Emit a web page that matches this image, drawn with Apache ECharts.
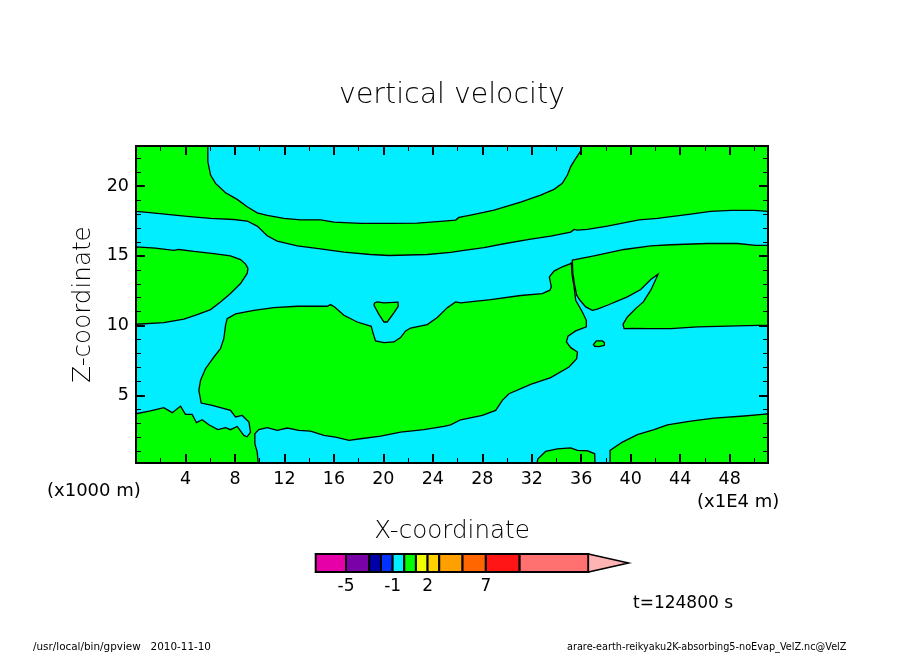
<!DOCTYPE html>
<html><head><meta charset="utf-8">
<style>html,body{margin:0;padding:0;background:#fff}#c{width:904px;height:654px}</style>
<script src="https://cdn.jsdelivr.net/npm/echarts@6/dist/echarts.min.js"></script>
</head><body><div id="c"></div>
<script>
var X_MIN = 0, X_MAX = 51.1, Z_MIN = 0.15, Z_MAX = 22.88;
var xMajorTicks = [4,8,12,16,20,24,28,32,36,40,44,48];
var xMinorTicks = [2,6,10,14,18,22,26,30,34,38,42,46,50];
var zMajorTicks = [5,10,15,20];
var zMinorTicks = [1,2,3,4,6,7,8,9,11,12,13,14,16,17,18,19,21,22];

var upperBand = [[5.81,22.88],[5.81,21.75],[6.03,20.8],[6.43,20.2],[7.24,19.53],[8.18,19.05],[8.99,18.52],[9.8,18.09],[10.61,17.9],[11.96,17.69],[13.31,17.59],[14.92,17.59],[16,17.42],[18.16,17.33],[20.58,17.33],[22.74,17.35],[24.63,17.47],[25.84,17.57],[26.11,17.76],[27.06,17.93],[28.95,18.28],[31.1,18.86],[32.72,19.36],[33.8,19.77],[34.47,20.2],[34.88,20.8],[35.15,21.4],[35.47,21.87],[35.95,22.52],[36.04,22.88],[51.1,22.88],[51.1,18.19],[49.98,18.26],[48.09,18.26],[46.47,18.19],[44.85,18],[42.16,17.69],[40.67,17.59],[38.11,17.14],[36.49,16.9],[35.69,16.85],[35.42,16.9],[35.15,16.71],[33.53,16.42],[31.91,16.2],[29.75,15.87],[28.14,15.6],[26.52,15.39],[25.44,15.25],[23.55,15.1],[20.45,15.03],[18.97,15.1],[16.81,15.27],[14.92,15.51],[13.04,15.72],[11.42,16.06],[10.61,16.44],[9.8,17.14],[8.99,17.5],[7.91,17.61],[6.03,17.69],[4.14,17.83],[2.52,17.97],[0.9,18.12],[0,18.19],[0,22.88]];
var leftLobe = [[0,15.65],[1.58,15.56],[3.06,15.39],[3.46,15.46],[4.68,15.32],[6.3,15.17],[7.64,15],[8.45,14.74],[8.86,14.41],[9.05,14.1],[8.99,13.74],[8.45,13.02],[7.64,12.3],[6.83,11.7],[6.03,11.15],[4.95,10.79],[3.87,10.46],[2.25,10.22],[0,10.1]];
var mainBlob = [[7.24,10.03],[7.37,10.5],[8.05,10.84],[9.53,11.1],[11.15,11.29],[13.04,11.39],[15.46,11.39],[15.73,11.51],[16.06,11.34],[16.81,10.74],[17.89,10.26],[19.02,9.95],[19.18,9.43],[19.37,8.9],[20.05,8.78],[20.85,8.83],[21.39,9.14],[21.8,9.62],[22.2,9.83],[23.55,10.07],[24.36,10.58],[25.17,11.29],[25.84,11.7],[26.25,11.63],[28.68,11.87],[31.1,12.16],[32.85,12.3],[33.47,12.54],[33.58,12.78],[33.42,13.5],[33.8,13.91],[34.47,14.22],[35.09,14.43],[35.2,14.5],[35.25,13.7],[35.42,12.78],[35.5,12.2],[35.55,11.82],[36.09,10.98],[36.41,10.38],[36.41,9.91],[35.55,9.62],[34.93,9.24],[34.8,8.83],[35.15,8.42],[35.69,8.11],[35.63,7.63],[35.01,7.03],[33.53,6.27],[31.91,5.79],[30.16,5.12],[29.62,4.64],[29.08,3.92],[28,3.56],[26.25,3.25],[25.44,2.89],[24.9,2.77],[23.28,2.54],[21.39,2.37],[19.78,2.08],[18.16,1.89],[17.22,1.77],[16.14,2.01],[15.19,2.13],[14.11,2.44],[13.17,2.49],[12.23,2.66],[11.42,2.49],[10.61,2.68],[9.93,2.54],[9.61,2.25],[9.61,1.53],[9.8,0.93],[9.88,0.15],[0,0.15],[0,3.68],[1.17,3.88],[2.25,4.12],[2.93,3.76],[3.6,4.23],[4,3.64],[4.54,3.64],[4.89,3.04],[5.35,3.25],[5.89,2.89],[6.62,2.54],[7.24,2.68],[7.64,2.54],[8.18,2.77],[8.72,2.13],[8.99,2.03],[9.26,2.37],[9.13,3.09],[8.59,3.56],[8.05,3.45],[7.64,3.92],[6.83,4.12],[6.16,4.28],[5.27,4.45],[5.08,5.36],[5.22,6.08],[5.62,6.91],[6.3,7.75],[6.83,8.35],[7.1,9.07],[7.19,9.67]];
var rightLobe = [[35.28,14.7],[37.03,15],[39.46,15.46],[41.62,15.72],[43.24,15.8],[46.2,15.89],[48.63,15.89],[50.11,15.75],[51.1,15.75],[51.1,10.03],[47.01,9.95],[45.39,9.91],[43.23,9.79],[41.48,9.79],[40.27,9.81],[39.46,9.79],[39.38,10.1],[39.73,10.62],[40.4,11.22],[41.02,11.7],[41.62,12.54],[41.94,13.14],[42.21,13.69],[41.62,13.31],[40.81,12.59],[39.73,12.06],[38.11,11.46],[37.3,11.18],[36.9,11.1],[36.36,11.34],[35.9,11.82],[35.63,12.18],[35.47,12.9],[35.32,13.74]];
var heartPatch = [[19.29,11.63],[19.24,11.46],[19.64,10.81],[20.05,10.26],[20.31,10.26],[20.85,10.91],[21.2,11.39],[21.18,11.68],[20.05,11.63],[19.51,11.7]];
var smallPatch = [[36.98,8.64],[37.22,8.9],[37.71,8.9],[37.87,8.78],[37.87,8.59],[37.44,8.49],[37.09,8.52]];
var bottomPatch = [[32.42,0.15],[32.5,0.45],[33.12,0.98],[34.07,1.17],[35.15,1.24],[35.69,1.05],[36.49,1.03],[37.09,0.81],[37.11,0.15]];
var bottomRight = [[38.33,0.15],[38.33,1.05],[39.33,1.65],[40.54,2.18],[41.89,2.54],[42.97,2.89],[44.85,3.16],[46.74,3.37],[49.17,3.52],[50.65,3.64],[51.1,3.68],[51.1,0.15]];
var greenRegions = [upperBand,leftLobe,mainBlob,rightLobe,heartPatch,smallPatch,bottomPatch,bottomRight];

var barLevels = [-7.6,-5,-3,-2,-1,0,1,2,3,5,7,9.9,15.8];
var barColors = ['#e600a8','#7a00a8','#0000a8','#0033ff','#00eeff','#00ff00','#eeff00','#ffd000','#ff9f00','#ff6600','#ff1515','#ff7070'];
var barTipEnd = 19.25, barTipColor = '#ffb4b4';
var barLabels = [-5,-1,2,7];

var CYAN = '#00eeff', GREEN = '#00ff00', FONT = '"DejaVu Sans"', THIN = '"DejaVu Sans Light","DejaVu Sans"';

function frameAxis(pos, ticks, len, min, max, labels, extra){
  return Object.assign({
    type:'value', gridIndex:0, position:pos, min:min, max:max, z:10,
    axisLine:{show:true, onZero:false, lineStyle:{color:'#000', width:2}},
    axisTick:{show:true, inside:true, length:len, customValues:ticks, lineStyle:{color:'#000', width:len>6?2:1}},
    axisLabel:labels?{show:true, customValues:labels, color:'#000', fontFamily:FONT, fontSize:17.5, margin:7}:{show:false},
    splitLine:{show:false}
  }, extra||{});
}

var chart = echarts.init(document.getElementById('c'), null, {renderer:'canvas'});
var barData = barColors.map(function(c,i){ return [barLevels[i], barLevels[i+1], i]; });

chart.setOption({
  animation:false, backgroundColor:'#fff',
  title:{text:'vertical velocity', left:447, top:77, textAlign:'center',
    textStyle:{fontFamily:THIN, fontWeight:'normal', fontSize:28.4, color:'#000'}},
  grid:[
    {left:136, top:146, width:632, height:317, show:true, backgroundColor:CYAN, borderWidth:0},
    {left:315.7, top:554, width:312.9, height:18, show:false}
  ],
  xAxis:[
    frameAxis('bottom', xMajorTicks, 9, X_MIN, X_MAX, xMajorTicks, {name:'X-coordinate', nameLocation:'middle', nameGap:56, nameTextStyle:{fontFamily:THIN, fontSize:24.6, color:'#000'}}),
    frameAxis('bottom', xMinorTicks, 5, X_MIN, X_MAX),
    frameAxis('top', xMajorTicks, 9, X_MIN, X_MAX),
    frameAxis('top', xMinorTicks, 5, X_MIN, X_MAX),
    {type:'value', gridIndex:1, position:'bottom', min:barLevels[0], max:barTipEnd,
     axisLine:{show:false, onZero:false}, axisTick:{show:false}, splitLine:{show:false},
     axisLabel:{show:true, customValues:barLabels, color:'#000', fontFamily:FONT, fontSize:17, margin:6}}
  ],
  yAxis:[
    frameAxis('left', zMajorTicks, 9, Z_MIN, Z_MAX, zMajorTicks, {name:'Z-coordinate', nameLocation:'middle', nameGap:38, nameRotate:90, nameTextStyle:{fontFamily:THIN, fontSize:24.6, color:'#000'}}),
    frameAxis('left', zMinorTicks, 5, Z_MIN, Z_MAX),
    frameAxis('right', zMajorTicks, 9, Z_MIN, Z_MAX),
    frameAxis('right', zMinorTicks, 5, Z_MIN, Z_MAX),
    {type:'value', gridIndex:1, min:0, max:1, show:false}
  ],
  series:[
    {type:'custom', xAxisIndex:0, yAxisIndex:0, clip:true, silent:true, z:2,
     data:greenRegions.map(function(_,i){return [i];}),
     renderItem:function(params, api){
       var pts = greenRegions[api.value(0)].map(function(p){return api.coord(p);});
       return {type:'polygon', shape:{points:pts}, style:{fill:GREEN, stroke:'#000', lineWidth:1.3}};
     }},
    {type:'custom', xAxisIndex:4, yAxisIndex:4, clip:false, silent:true, z:3,
     data:barData,
     renderItem:function(params, api){
       var a = api.coord([api.value(0),1]), b = api.coord([api.value(1),0]);
       return {type:'rect', shape:{x:a[0], y:a[1], width:b[0]-a[0], height:b[1]-a[1]},
         style:{fill:barColors[api.value(2)], stroke:'#000', lineWidth:2}};
     }},
    {type:'custom', xAxisIndex:4, yAxisIndex:4, clip:false, silent:true, z:3,
     data:[[barLevels[barLevels.length-1], barTipEnd]],
     renderItem:function(params, api){
       var s = api.value(0), e = api.value(1);
       return {type:'polygon', shape:{points:[api.coord([s,1]), api.coord([e,0.5]), api.coord([s,0])]},
         style:{fill:barTipColor, stroke:'#000', lineWidth:1.5}};
     }}
  ],
  graphic:[
    {type:'text', left:47, top:482, style:{text:'(x1000 m)', font:'18px '+FONT, fill:'#000'}},
    {type:'text', left:697, top:493, style:{text:'(x1E4 m)', font:'18px '+FONT, fill:'#000'}},
    {type:'text', left:633, top:595, style:{text:'t=124800 s', font:'17px '+FONT, fill:'#000'}},
    {type:'text', left:33, top:642, style:{text:'/usr/local/bin/gpview   2010-11-10', font:'10.4px '+FONT, fill:'#000'}},
    {type:'text', left:567, top:642, style:{text:'arare-earth-reikyaku2K-absorbing5-noEvap_VelZ.nc@VelZ', font:'9.7px '+FONT, fill:'#000'}}
  ]
});
</script></body></html>
